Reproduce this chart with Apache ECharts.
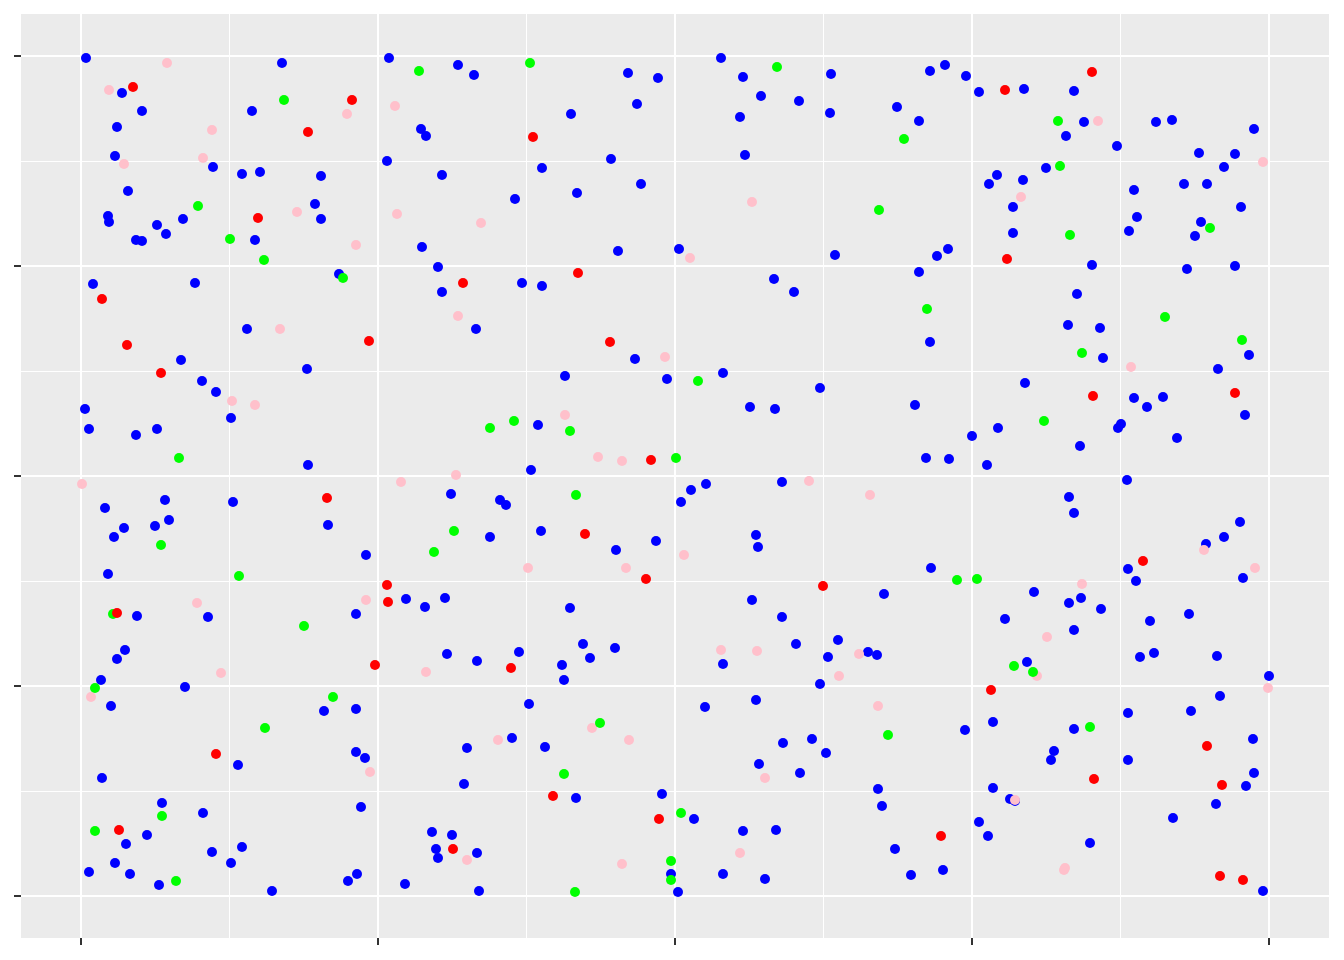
<!DOCTYPE html>
<html><head><meta charset="utf-8">
<style>html,body{margin:0;padding:0;background:#fff}#c{width:1344px;height:960px}</style>
<script src="https://cdn.jsdelivr.net/npm/echarts@6/dist/echarts.min.js"></script>
</head><body><div id="c"></div>
<script>
const xMajor=[0,297,594,891,1188];
const xMinor=[148.5,445.5,742.5,1039.5];
const yMajor=[0,210,420,630,840];
const yMinor=[105,315,525,735];
const blue=[[5,838],[201,833],[308,838],[377,831],[393,821],[547,823],[577,818],[640,838],[662,819],[750,822],[849,825],[864,831],[885,820],[898,804],[943,807],[993,805],[1003,774],[1075,774],[1091,776],[1173,767],
[41,803],[61,785],[36,769],[34,740],[47,705],[27,680],[28,674],[55,656],[61,655],[76,671],[85,662],[102,677],[132,729],[161,722],[179,724],[171,785],[174,656],[234,692],[240,677],[240,720],
[306,735],[340,767],[345,760],[361,721],[341,649],[357,629],[361,604],[395,567],[441,613],[461,610],[434,697],[461,728],[490,782],[496,703],[530,737],[556,792],[560,712],[537,645],[598,647],[659,779],[664,741],[680,800],[718,795],[749,783],[816,789],[838,775],[754,641],[838,624],[856,640],[867,647],[693,617],[713,604],
[908,712],[916,721],[942,716],[965,728],[985,760],[1036,750],[1053,706],[1056,679],[1048,665],[932,689],[932,663],[1011,631],[996,602],[987,571],[1019,568],[1022,538],[1103,712],[1118,743],[1126,712],[1143,729],[1154,742],[1160,689],[1120,674],[1114,660],[1106,627],[1154,630],
[12,612],[114,613],[258,622],[166,567],[100,536],[226,527],[121,515],[135,504],[150,478],[4,487],[8,467],[55,461],[76,467],[227,431],
[849,554],[554,537],[586,517],[642,523],[669,489],[694,487],[739,508],[834,491],[845,438],[868,437],[891,460],[917,468],[906,431],[944,513],[999,450],[1037,468],[1040,472],[1053,498],[1066,489],[1082,499],[1096,458],[1137,527],[1168,541],[1164,481],[484,520],[457,471],[450,426],
[370,402],[419,396],[425,391],[409,359],[460,365],[535,346],[575,355],[600,394],[610,406],[625,412],[701,414],[675,361],[677,349],[988,399],[993,383],[1046,416],[1159,374],[1143,359],[1125,352],[1162,318],[1047,327],[1055,315],[1069,275],[1059,239],[1073,243],[1108,282],[1136,240],[1139,200],
[24,388],[84,396],[152,394],[74,370],[88,376],[43,368],[33,359],[27,322],[247,371],[285,341],[56,280],[127,279],[44,246],[36,237],[20,216],[104,209],[30,190],[275,282],[325,297],[344,289],[364,298],[366,242],[396,235],[438,244],[489,288],[502,252],[509,238],[534,248],[481,231],[483,216],[448,192],
[850,328],[803,302],[671,296],[701,279],[715,252],[757,256],[747,239],[787,244],[796,241],[739,212],[642,232],[624,189],[675,196],
[953,304],[924,277],[946,234],[988,293],[1000,298],[1020,287],[993,266],[1188,220],[1047,183],[1110,185],[912,174],[884,166],[993,167],[973,145],[970,136],[1047,136],[1172,157],
[243,185],[275,187],[275,144],[284,138],[157,131],[21,118],[81,93],[122,83],[280,89],[386,148],[431,158],[464,149],[383,112],[495,98],[581,102],[702,153],[731,157],[745,143],[678,132],[719,123],[797,107],[801,90],[912,108],[898,74],[907,60],[929,97],[934,95],[1092,78],[1135,92],[1165,110],[1173,123],
[66,61],[45,52],[34,33],[49,22],[8,24],[78,11],[131,44],[150,33],[161,49],[191,5],[267,15],[276,22],[324,12],[351,64],[355,47],[357,38],[371,61],[396,43],[398,5],[590,22],[597,4],[613,77],[662,65],[695,66],[642,22],[684,17],[814,47],[830,21],[862,26],[1009,53],[1182,5]];
const red=[[52,809],[271,796],[227,764],[177,678],[924,806],[1011,824],[452,759],[926,637],[497,623],[382,613],[21,597],[46,551],[80,523],[288,555],[529,554],[570,436],[1012,500],[1154,503],[246,398],[504,362],[565,317],[306,311],[307,294],[36,283],[294,231],[430,228],[742,310],[1062,335],[910,206],[135,142],[472,100],[578,77],[38,66],[372,47],[860,60],[1126,150],[1013,117],[1141,111],[1139,20],[1162,16]];
const green=[[203,796],[338,825],[449,833],[696,829],[823,757],[977,775],[979,730],[117,690],[149,657],[183,636],[262,618],[798,686],[989,661],[1129,668],[846,587],[1084,579],[1161,556],[1001,543],[617,515],[409,468],[433,475],[489,465],[98,438],[595,438],[963,475],[495,401],[373,365],[353,344],[80,351],[158,320],[876,316],[896,317],[32,282],[223,270],[933,230],[952,224],[14,208],[252,199],[184,168],[519,173],[807,161],[1009,169],[483,122],[81,80],[14,65],[600,83],[590,35],[590,16],[95,15],[494,4]];
const pink=[[86,833],[28,806],[314,790],[266,782],[131,766],[43,732],[122,738],[216,684],[316,682],[275,651],[400,673],[671,694],[609,638],[1017,775],[1182,734],[940,699],[199,567],[377,580],[584,539],[1050,529],[151,495],[174,491],[484,481],[517,439],[541,435],[375,421],[320,414],[1,412],[728,415],[789,401],[603,341],[447,328],[545,328],[1123,346],[1174,328],[1001,312],[285,296],[116,293],[966,259],[640,246],[676,245],[778,242],[758,220],[956,220],[345,224],[140,223],[10,199],[1187,208],[797,190],[417,156],[511,168],[548,156],[289,124],[684,118],[934,96],[659,43],[386,36],[541,32],[983,26],[984,28]];

const xRange={min:-60,max:1248};
const yRange={min:-42,max:882};
function axis(range,values,lineWidth,showTick){
  return Object.assign({type:'value'},range,{
    position:undefined,
    axisLine:{show:false,onZero:false},
    axisLabel:{show:false},
    axisTick:{show:showTick,length:7,customValues:values,lineStyle:{color:'#333333',width:2}},
    splitLine:{show:true,lineStyle:{color:'#ffffff',width:lineWidth}}
  });
}
function series(name,data,color,z){
  return {name,type:'scatter',data,symbol:'circle',symbolSize:10,z,
    itemStyle:{color,opacity:1},silent:true,animation:false,xAxisIndex:0,yAxisIndex:0};
}
const chart=echarts.init(document.getElementById('c'),null,{renderer:'canvas'});
const xA=[axis(xRange,xMajor,2,true),axis(xRange,xMinor,1,false)];
const yA=[axis(yRange,yMajor,2,true),axis(yRange,yMinor,1,false)];
xA[0].position='bottom';xA[1].position='bottom';
yA[0].position='left';yA[1].position='left';
chart.setOption({
  animation:false,
  backgroundColor:'#ffffff',
  grid:{left:21,top:14,width:1308,height:924,show:true,backgroundColor:'#EBEBEB',borderWidth:0},
  xAxis:xA,
  yAxis:yA,
  series:[series('blue',blue,'#0000FF',2),series('pink',pink,'#FFC0CB',3),series('green',green,'#00FF00',4),series('red',red,'#FF0000',5)]
});
</script></body></html>
